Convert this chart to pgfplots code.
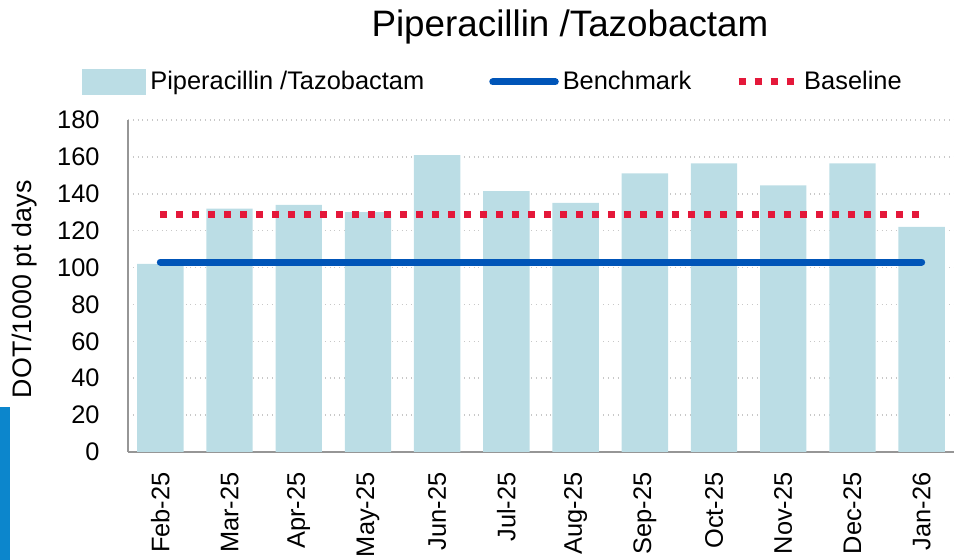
\documentclass[border=0pt]{standalone}
\usepackage{fontspec}
\setmainfont{Liberation Sans}
\usepackage{pgfplots}
\pgfplotsset{compat=1.18}
\definecolor{barblue}{RGB}{187,221,229}
\definecolor{benchblue}{RGB}{0,85,184}
\definecolor{basered}{RGB}{228,24,58}
\definecolor{gridgray}{RGB}{200,200,200}
\definecolor{axisgray}{RGB}{150,150,150}
\definecolor{logoblue}{RGB}{12,134,204}
\begin{document}
\begin{tikzpicture}
\begin{axis}[
  name=ax,
  scale only axis, width=413pt, height=166pt,
  xmin=-0.467, xmax=11.467, ymin=0, ymax=180,
  xtick={0,...,11},
  xticklabels={Feb-25,Mar-25,Apr-25,May-25,Jun-25,Jul-25,Aug-25,Sep-25,Oct-25,Nov-25,Dec-25,Jan-26},
  ytick={0,20,...,180},
  ymajorgrids, grid style={gridgray, dotted, line width=0.8pt},
  axis x line*=bottom, axis y line*=left,
  axis line style={axisgray, line width=0.9pt, -},
  major tick length=0pt,
  tick label style={font=\fontsize{12.7}{14}\selectfont},
  /pgf/number format/assume math mode=true,
  xticklabel style={rotate=90, anchor=east, inner sep=0pt},
  xticklabel shift=10pt,
  yticklabel style={anchor=east, inner sep=0pt},
  yticklabel shift=14pt,
  ylabel={DOT/1000 pt days},
  ylabel style={at={(axis description cs:-0.1247,0.49)}, anchor=center, font=\fontsize{13.4}{15}\selectfont},
  title={Piperacillin /Tazobactam},
  title style={at={(axis description cs:0.535,1)}, anchor=base, yshift=35.5pt, inner sep=0pt, font=\fontsize{18.4}{20}\selectfont},
  legend columns=3,
  legend style={at={(axis description cs:0,1)}, anchor=west, xshift=-23pt, yshift=19pt,
    draw=none, fill=none, inner sep=0pt, font=\fontsize{12.7}{14}\selectfont,
    /tikz/every odd column/.append style={column sep=0pt},
    /tikz/every even column/.append style={column sep=20pt}},
]
\addplot[ybar, bar width=0.67, fill=barblue, draw=none,
  legend image code/.code={\fill[barblue] (0pt,-6.5pt) rectangle (32pt,6.5pt);}]
  coordinates {(0,102) (1,132) (2,134) (3,130) (4,161) (5,141.5) (6,135) (7,151) (8,156.5) (9,144.5) (10,156.5) (11,122)};
\addlegendentry{Piperacillin /Tazobactam\rule{10.5pt}{0pt}}
\addplot[benchblue, line width=3.5pt, line cap=round,
  legend image code/.code={\draw[benchblue, line width=3.5pt, line cap=round] (1.75pt,0pt) -- (33pt,0pt);}]
  coordinates {(0,103) (11,103)};
\addlegendentry{Benchmark}
\addplot[basered, line width=3.5pt, dash pattern=on 3.5pt off 4.5pt,
  legend image code/.code={\draw[basered, line width=3.5pt, dash pattern=on 3.5pt off 4.5pt] (0pt,0pt) -- (29pt,0pt);}]
  coordinates {(0,128.5) (11,128.5)};
\addlegendentry{Baseline}
\coordinate (bl) at (rel axis cs:0,0);
\coordinate (tr) at (rel axis cs:1,1);
\end{axis}
\fill[logoblue] ([shift={(-64pt,22.5pt)}]bl) rectangle ([shift={(-59pt,-54pt)}]bl);
\pgfresetboundingbox
\path[use as bounding box] ([shift={(-64pt,-54pt)}]bl) rectangle ([shift={(0pt,60pt)}]tr);
\end{tikzpicture}
\end{document}
